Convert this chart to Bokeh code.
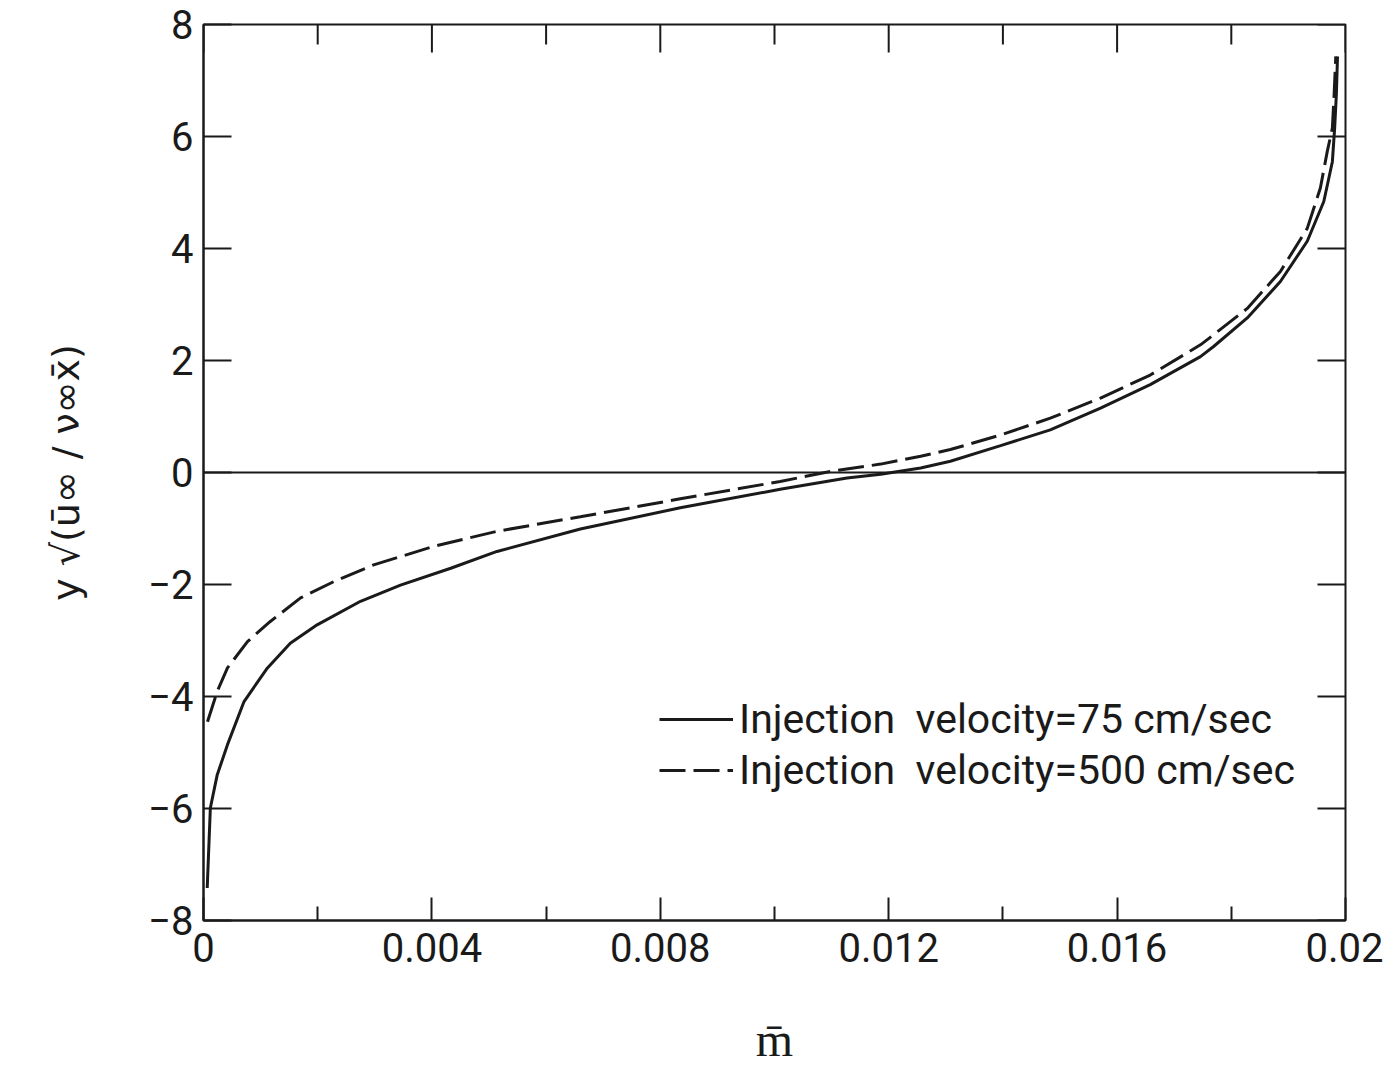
import math
from bokeh.plotting import figure
from bokeh.models import (Range1d, FixedTicker, Span, Legend,
                          LegendItem, CustomJSTickFormatter)
from bokeh.embed import file_html
from bokeh.resources import INLINE

# ---- data ----
m_75 = [0.000065, 0.00012, 0.00024, 0.00042, 0.00071, 0.00112, 0.00152, 0.00199,
        0.00275, 0.00345, 0.00433, 0.00514, 0.00660, 0.00835, 0.01010, 0.01127,
        0.01186, 0.01256, 0.01308, 0.01396, 0.01483, 0.01571, 0.01658, 0.01746,
        0.01769, 0.01828, 0.01886, 0.01933, 0.01962, 0.01977, 0.01981, 0.01984,
        0.01986]
y_75 = [-7.42, -5.99, -5.40, -4.86, -4.09, -3.49, -3.05, -2.72,
        -2.30, -2.01, -1.71, -1.41, -1.01, -0.63, -0.30, -0.10,
        -0.03, 0.08, 0.20, 0.48, 0.76, 1.15, 1.57, 2.07,
        2.25, 2.76, 3.41, 4.13, 4.84, 5.55, 6.15, 6.75,
        7.43]

m_500 = [0.00007, 0.00024, 0.00042, 0.00077, 0.00117, 0.00170, 0.00228, 0.00298,
         0.00403, 0.00514, 0.00660, 0.00835, 0.01010, 0.01098, 0.01186, 0.01256,
         0.01308, 0.01396, 0.01483, 0.01571, 0.01658, 0.01746, 0.01769, 0.01828,
         0.01886, 0.01933, 0.01956, 0.01968, 0.01977, 0.01980, 0.01983]
y_500 = [-4.45, -3.91, -3.49, -3.02, -2.66, -2.24, -1.95, -1.65,
         -1.32, -1.05, -0.79, -0.47, -0.16, 0.02, 0.15, 0.29,
         0.41, 0.67, 0.97, 1.33, 1.74, 2.28, 2.46, 2.93,
         3.59, 4.36, 5.08, 5.73, 6.15, 6.74, 7.43]

x_major = [0, 0.004, 0.008, 0.012, 0.016, 0.02]
x_minor = [0.002, 0.006, 0.010, 0.014, 0.018]
x_labels = ["0", "0.004", "0.008", "0.012", "0.016", "0.02"]
y_ticks = [-8, -6, -4, -2, 0, 2, 4, 6, 8]
y_labels = ["\u22128", "\u22126", "\u22124", "\u22122", "0", "2", "4", "6", "8"]

legend_labels = ["Injection  velocity=75 cm/sec",
                 "Injection  velocity=500 cm/sec"]
x_title = "m\u0304"
y_title = "y \u221a(u\u0304\u221e / \u03bd\u221ex\u0304)"

FONT = "Roboto"
INK = "#1a1a1a"

X0, X1 = 0, 0.02
Y0, Y1 = -8, 8

p = figure(frame_width=1142, frame_height=896, output_backend="svg",
           toolbar_location=None,
           x_range=Range1d(X0, X1), y_range=Range1d(Y0, Y1),
           min_border_left=203, min_border_right=38, min_border_top=24,
           min_border_bottom=60)
p.xgrid.visible = False
p.ygrid.visible = False
p.outline_line_color = INK
p.outline_line_width = 2
p.background_fill_color = "white"
p.border_fill_color = "white"

fmt_code = ("const i = ticks_.findIndex(t => Math.abs(t - tick) < 1e-9);"
            " return i >= 0 ? labels[i] : '';")
xfmt = CustomJSTickFormatter(args=dict(labels=x_labels, ticks_=x_major), code=fmt_code)
yfmt = CustomJSTickFormatter(args=dict(labels=y_labels, ticks_=y_ticks), code=fmt_code)


def style(ax):
    ax.axis_line_width = 2
    ax.axis_line_color = INK
    ax.major_tick_line_color = INK
    ax.major_tick_line_width = 2
    ax.minor_tick_line_color = INK
    ax.minor_tick_line_width = 2
    ax.major_tick_out = 0
    ax.minor_tick_out = 0
    ax.major_label_text_font = FONT
    ax.major_label_text_font_size = "40px"
    ax.major_label_text_color = INK
    ax.axis_label_text_font_style = "normal"
    ax.axis_label_text_color = INK


# bottom axis
xb = p.xaxis[0]
xb.ticker = FixedTicker(ticks=x_major, minor_ticks=x_minor)
xb.formatter = xfmt
style(xb)
xb.major_tick_in = 23
xb.minor_tick_in = 14
xb.major_label_standoff = 12
xb.axis_label = x_title
xb.axis_label_text_font = FONT
xb.axis_label_text_font_size = "48px"
xb.axis_label_standoff = 46

# left axis
yl = p.yaxis[0]
yl.ticker = FixedTicker(ticks=y_ticks)
yl.formatter = yfmt
style(yl)
yl.major_tick_in = 28
yl.minor_tick_in = 0
yl.major_label_standoff = 10
yl.axis_label = y_title
yl.axis_label_text_font = "DejaVu Sans"
yl.axis_label_text_font_size = "38px"
yl.axis_label_standoff = 57

# inward ticks on the top and right edges of the frame
top_major_y = [Y1] * len(x_major)
top_minor_y = [Y1] * len(x_minor)
p.ray(x=x_major, y=top_major_y, length=28, length_units="screen",
      angle=-math.pi / 2, line_color=INK, line_width=2)
p.ray(x=x_minor, y=top_minor_y, length=20, length_units="screen",
      angle=-math.pi / 2, line_color=INK, line_width=2)
right_x = [X1] * len(y_ticks)
p.ray(x=right_x, y=y_ticks, length=28, length_units="screen",
      angle=math.pi, line_color=INK, line_width=2)

# zero line
p.add_layout(Span(location=0, dimension="width", line_color=INK, line_width=2))

r75 = p.line(m_75, y_75, line_color=INK, line_width=3)
r500 = p.line(m_500, y_500, line_color=INK, line_width=3, line_dash="26 8")

legend = Legend(items=[LegendItem(label=legend_labels[0], renderers=[r75]),
                       LegendItem(label=legend_labels[1], renderers=[r500])],
                location=(456, 126), orientation="vertical",
                label_text_font=FONT, label_text_font_size="41px",
                label_text_color=INK, glyph_width=74, glyph_height=40,
                label_height=44, label_standoff=6, spacing=3, padding=0,
                margin=0, border_line_alpha=0, background_fill_alpha=0)
p.add_layout(legend, "center")

open("out.html", "w").write(file_html(p, INLINE))
